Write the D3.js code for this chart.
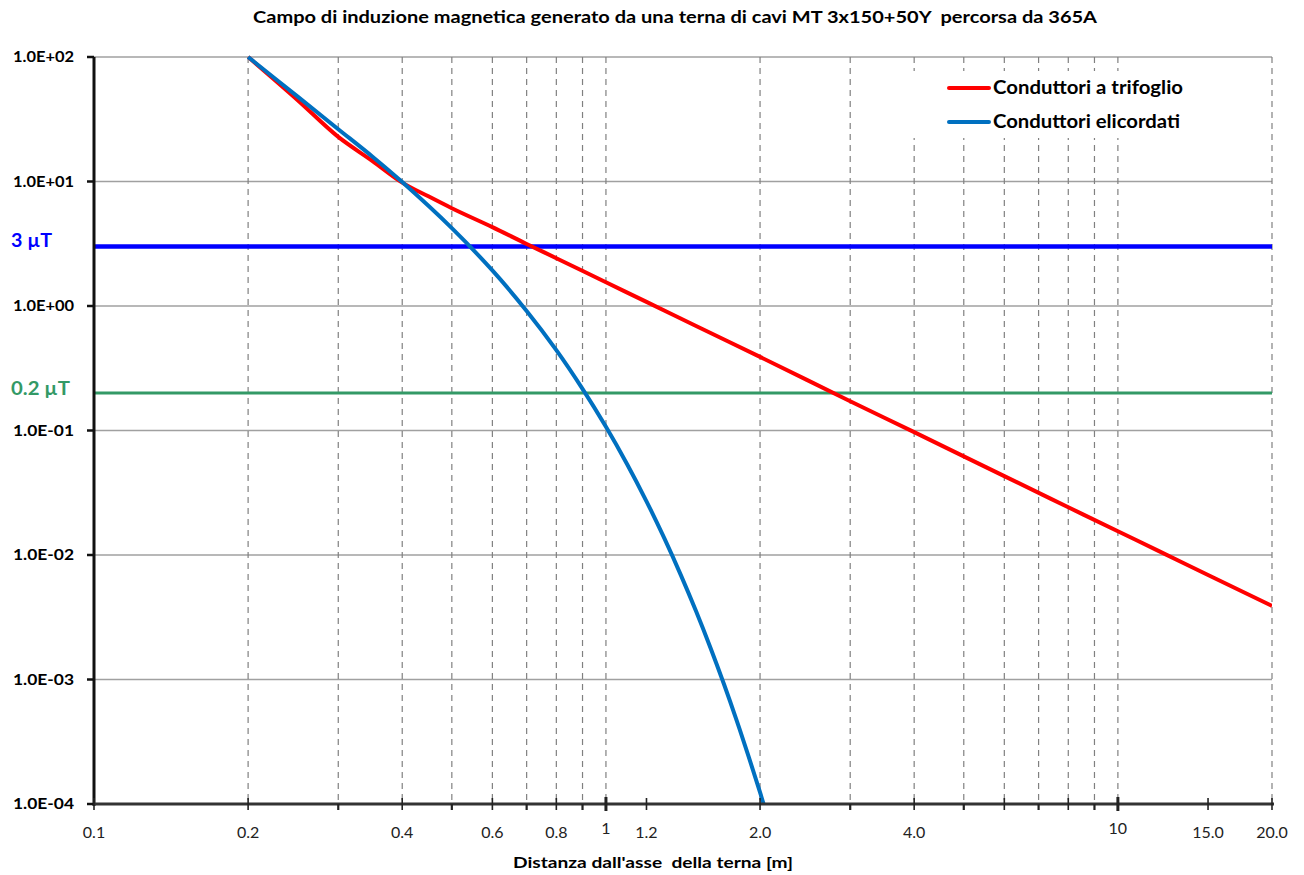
<!DOCTYPE html>
<html>
<head>
<meta charset="utf-8">
<script src="https://cdn.jsdelivr.net/npm/d3@7"></script>
<style>
  html, body { margin: 0; padding: 0; background: #fff; }
  svg { display: block; font-family: Lato, "Open Sans", "DejaVu Sans", sans-serif; }
  text { white-space: pre; }
</style>
</head>
<body>
<svg id="chart" width="1304" height="875"></svg>
<script>
// ---------------- DATA ----------------
const titleText = "Campo di induzione magnetica generato da una terna di cavi MT 3x150+50Y  percorsa da 365A";
const xAxisTitle = "Distanza dall'asse  della terna [m]";

const seriesNames = ["Conduttori a trifoglio", "Conduttori elicordati"];
const seriesColors = ["#ff0000", "#0070c0"];

// Conduttori a trifoglio (µT vs m)
const trifoglioX = [0.2, 0.25, 0.3, 0.35, 0.4, 0.45, 0.5, 0.6, 0.7, 0.8, 1.0, 1.2, 1.5, 2, 3, 4, 5, 6, 8, 10, 12, 15, 20];
const trifoglioY = [100, 45, 22.8, 14.6, 9.8, 7.6, 6.1, 4.3, 3.15, 2.42, 1.55, 1.08, 0.69, 0.39, 0.172, 0.097, 0.062, 0.043, 0.0242, 0.0155, 0.0108, 0.0069, 0.0039];

// Conduttori elicordati (µT vs m)
const elicordatiX = [0.2, 0.25, 0.3, 0.35, 0.4, 0.5, 0.6, 0.7, 0.8, 0.9, 1.0, 1.1, 1.2, 1.3, 1.4, 1.5, 1.6, 1.7, 1.8, 1.9, 2.0, 2.032];
const elicordatiY = [100, 48, 26.3, 15.8, 9.89, 4.22, 1.93, 0.912, 0.442, 0.216, 0.107, 0.0536, 0.027, 0.01365, 0.00693, 0.00353, 0.0018, 0.00092, 0.00047, 0.00024, 0.000124, 0.0001];

// Reference levels
const limitValues = [3, 0.2];
const limitLabels = ["3 µT", "0.2 µT"];
const limitColors = ["#0000ff", "#339966"];

// Axis ticks
const yTicks = [1e2, 1e1, 1e0, 1e-1, 1e-2, 1e-3, 1e-4];
const yTickLabels = ["1.0E+02", "1.0E+01", "1.0E+00", "1.0E-01", "1.0E-02", "1.0E-03", "1.0E-04"];
const xGridValues = [0.2, 0.3, 0.4, 0.5, 0.6, 0.7, 0.8, 0.9, 1, 2, 3, 4, 5, 6, 7, 8, 9, 10, 20];
const xMajorTicks = [0.1, 0.2, 0.4, 0.6, 0.8, 1.2, 2, 4, 6, 8, 15, 20];
const xMinorTicks = [0.3, 0.5, 0.7, 0.9, 3, 5, 7, 9];
const xHeavyTicks = [1, 10];
const xTickValues = [0.1, 0.2, 0.4, 0.6, 0.8, 1, 1.2, 2, 4, 10, 15, 20];
const xTickLabels = ["0.1", "0.2", "0.4", "0.6", "0.8", "1", "1.2", "2.0", "4.0", "10", "15.0", "20.0"];

// ---------------- LAYOUT ----------------
const plot = { left: 94, right: 1272, top: 57, bottom: 804 };
const svg = d3.select("#chart");

const x = d3.scaleLog().domain([0.1, 20]).range([plot.left, plot.right]);
const y = d3.scaleLog().domain([1e-4, 1e2]).range([plot.bottom, plot.top]);

// Title
svg.append("text")
  .attr("x", 253).attr("y", 23)
  .attr("textLength", 844).attr("lengthAdjust", "spacingAndGlyphs")
  .style("font-weight", "bold").style("font-size", "17px").style("fill", "#000")
  .text(titleText);

// Clip
svg.append("clipPath").attr("id", "clip")
  .append("rect").attr("x", plot.left).attr("y", plot.top - 2)
  .attr("width", plot.right - plot.left).attr("height", plot.bottom - plot.top + 2);

// Horizontal gridlines
svg.append("g").selectAll("line").data(yTicks.slice(0, 6)).join("line")
  .attr("x1", plot.left).attr("x2", plot.right)
  .attr("y1", d => y(d)).attr("y2", d => y(d))
  .attr("stroke", "#a0a0a0").attr("stroke-width", 1.6);

// Vertical dashed gridlines
svg.append("g").selectAll("line").data(xGridValues).join("line")
  .attr("x1", d => x(d)).attr("x2", d => x(d))
  .attr("y1", plot.top).attr("y2", plot.bottom)
  .attr("stroke", "#808080").attr("stroke-width", 1.2)
  .attr("stroke-dasharray", "6,5");

// Legend background (hides gridlines)
svg.append("rect").attr("x", 903).attr("y", 71).attr("width", 290).attr("height", 67).attr("fill", "#fff");

// Reference lines
limitValues.forEach((v, i) => {
  svg.append("line")
    .attr("x1", plot.left).attr("x2", plot.right)
    .attr("y1", y(v)).attr("y2", y(v))
    .attr("stroke", limitColors[i]).attr("stroke-width", i === 0 ? 4.5 : 3);
  svg.append("text")
    .attr("x", 11).attr("y", y(v) + (i === 0 ? 0 : 2))
    .style("font-weight", "bold").style("font-size", "18px")
    .style("fill", limitColors[i])
    .attr("textLength", i === 0 ? 41 : 59).attr("lengthAdjust", "spacingAndGlyphs")
    .text(limitLabels[i]);
});

// Curves
const curves = [d3.curveMonotoneX, d3.curveCatmullRom.alpha(0.5)];
const seriesData = [
  d3.zip(trifoglioX, trifoglioY),
  d3.zip(elicordatiX, elicordatiY)
];
const gCurves = svg.append("g").attr("clip-path", "url(#clip)");
seriesData.forEach((data, i) => {
  const line = d3.line().x(d => x(d[0])).y(d => y(d[1])).curve(curves[i]);
  gCurves.append("path").datum(data)
    .attr("d", line)
    .attr("fill", "none")
    .attr("stroke", seriesColors[i])
    .attr("stroke-width", 4)
    .attr("stroke-linejoin", "round");
});

// Y axis
svg.append("line").attr("x1", plot.left).attr("x2", plot.left)
  .attr("y1", plot.top).attr("y2", plot.bottom + 2)
  .attr("stroke", "#111").attr("stroke-width", 3);
svg.append("g").selectAll("line").data(yTicks).join("line")
  .attr("x1", plot.left - 7).attr("x2", plot.left)
  .attr("y1", d => y(d)).attr("y2", d => y(d))
  .attr("stroke", "#111").attr("stroke-width", 2.5);
svg.append("g").selectAll("text").data(yTicks).join("text")
  .attr("x", 74).attr("y", d => y(d))
  .attr("dy", "0.36em")
  .attr("text-anchor", "end")
  .style("font-weight", "bold").style("font-size", "15px").style("fill", "#000")
  .attr("textLength", 61).attr("lengthAdjust", "spacingAndGlyphs")
  .text((d, i) => yTickLabels[i]);

// X axis
svg.append("line").attr("x1", plot.left).attr("x2", plot.right + 2)
  .attr("y1", plot.bottom).attr("y2", plot.bottom)
  .attr("stroke", "#333").attr("stroke-width", 3);
svg.append("g").selectAll("line").data(xMajorTicks).join("line")
  .attr("x1", d => x(d)).attr("x2", d => x(d))
  .attr("y1", plot.bottom - 6).attr("y2", plot.bottom + 6)
  .attr("stroke", "#222").attr("stroke-width", 1.6);
svg.append("g").selectAll("line").data(xMinorTicks).join("line")
  .attr("x1", d => x(d)).attr("x2", d => x(d))
  .attr("y1", plot.bottom).attr("y2", plot.bottom + 6)
  .attr("stroke", "#222").attr("stroke-width", 2.2);
svg.append("g").selectAll("line").data(xHeavyTicks).join("line")
  .attr("x1", d => x(d)).attr("x2", d => x(d))
  .attr("y1", plot.bottom - 7).attr("y2", plot.bottom + 7)
  .attr("stroke", "#222").attr("stroke-width", 3);
svg.append("g").selectAll("text").data(xTickValues).join("text")
  .attr("x", d => x(d)).attr("y", (d, i) => (xTickLabels[i] === "1" || xTickLabels[i] === "10") ? 834 : 838)
  .attr("text-anchor", "middle")
  .style("font-size", "16px").style("fill", "#222")
  .text((d, i) => xTickLabels[i]);

// X axis title
svg.append("text")
  .attr("x", 513).attr("y", 868)
  .attr("textLength", 280).attr("lengthAdjust", "spacingAndGlyphs")
  .style("font-weight", "bold").style("font-size", "15px").style("fill", "#000")
  .text(xAxisTitle);

// Legend
const legendY = [88, 122];
const legendW = [190, 187];
seriesNames.forEach((name, i) => {
  svg.append("line")
    .attr("x1", 949).attr("x2", 989)
    .attr("y1", legendY[i]).attr("y2", legendY[i])
    .attr("stroke", seriesColors[i]).attr("stroke-width", 4)
    .attr("stroke-linecap", "round");
  svg.append("text")
    .attr("x", 993).attr("y", legendY[i]).attr("dy", "0.36em")
    .attr("textLength", legendW[i]).attr("lengthAdjust", "spacingAndGlyphs")
    .style("font-weight", "bold").style("font-size", "18px").style("fill", "#000")
    .text(name);
});
</script>
</body>
</html>
